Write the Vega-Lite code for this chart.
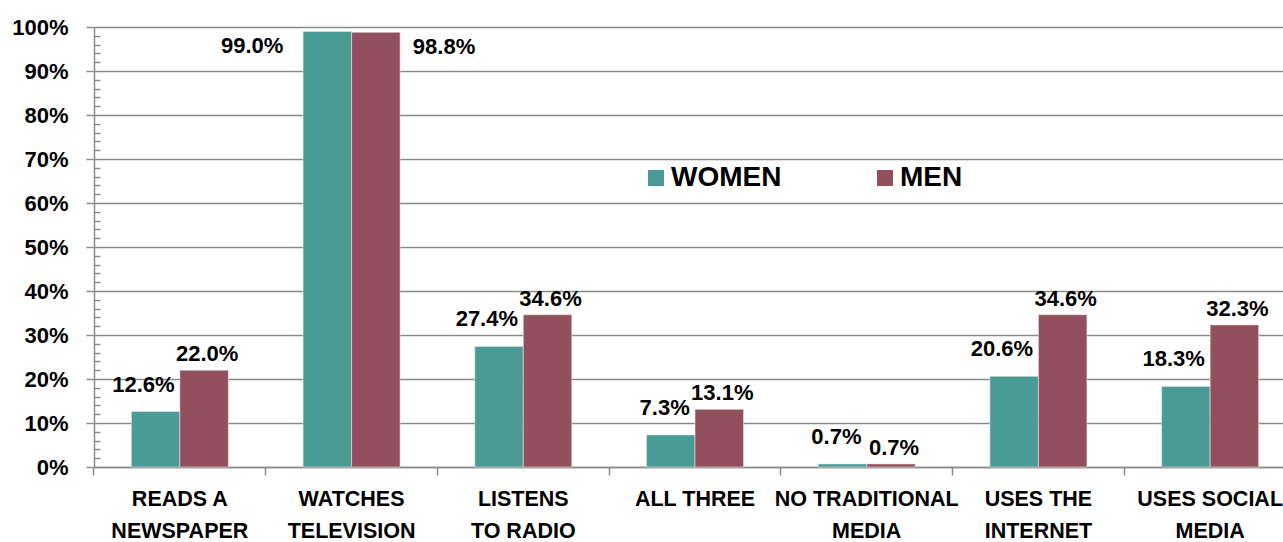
{
  "$schema": "https://vega.github.io/schema/vega-lite/v6.json",
  "width": 1189,
  "height": 440,
  "autosize": {"type": "none"},
  "padding": {"left": 94, "top": 27, "right": 0, "bottom": 75},
  "background": "white",
  "config": {
    "font": "Liberation Sans",
    "view": {"stroke": null},
    "text": {"font": "Liberation Sans", "fontWeight": "bold", "fontSize": 22, "color": "#000000"}
  },
  "data": {
    "values": [
      {"category": "READS A NEWSPAPER", "gender": "WOMEN", "value": 0.126},
      {"category": "READS A NEWSPAPER", "gender": "MEN", "value": 0.22},
      {"category": "WATCHES TELEVISION", "gender": "WOMEN", "value": 0.99},
      {"category": "WATCHES TELEVISION", "gender": "MEN", "value": 0.988},
      {"category": "LISTENS TO RADIO", "gender": "WOMEN", "value": 0.274},
      {"category": "LISTENS TO RADIO", "gender": "MEN", "value": 0.346},
      {"category": "ALL THREE", "gender": "WOMEN", "value": 0.073},
      {"category": "ALL THREE", "gender": "MEN", "value": 0.131},
      {"category": "NO TRADITIONAL MEDIA", "gender": "WOMEN", "value": 0.007},
      {"category": "NO TRADITIONAL MEDIA", "gender": "MEN", "value": 0.007},
      {"category": "USES THE INTERNET", "gender": "WOMEN", "value": 0.206},
      {"category": "USES THE INTERNET", "gender": "MEN", "value": 0.346},
      {"category": "USES SOCIAL MEDIA", "gender": "WOMEN", "value": 0.183},
      {"category": "USES SOCIAL MEDIA", "gender": "MEN", "value": 0.323}
    ]
  },
  "encoding": {
    "x": {
      "field": "category",
      "type": "nominal",
      "sort": null,
      "scale": {"range": [0, 1202], "paddingInner": 0.435, "paddingOuter": 0.2175},
      "axis": {
        "title": null,
        "domainColor": "#8c8c8c",
        "domainWidth": 1.5,
        "tickColor": "#8c8c8c",
        "tickWidth": 1.5,
        "tickSize": 8,
        "bandPosition": -0.385,
        "labelAngle": 0,
        "labelFont": "Liberation Sans",
        "labelFontSize": 21.5,
        "labelFontWeight": "bold",
        "labelColor": "#000000",
        "labelLineHeight": 32,
        "labelPadding": 13,
        "labelOverlap": false,
        "labelBound": false,
        "labelFlush": false,
        "labelLimit": 0,
        "labelExpr": "datum.value == 'READS A NEWSPAPER' ? ['READS A', 'NEWSPAPER'] : datum.value == 'WATCHES TELEVISION' ? ['WATCHES', 'TELEVISION'] : datum.value == 'LISTENS TO RADIO' ? ['LISTENS', 'TO RADIO'] : datum.value == 'NO TRADITIONAL MEDIA' ? ['NO TRADITIONAL', 'MEDIA'] : datum.value == 'USES THE INTERNET' ? ['USES THE', 'INTERNET'] : datum.value == 'USES SOCIAL MEDIA' ? ['USES SOCIAL', 'MEDIA'] : datum.value"
      }
    },
    "xOffset": {"field": "gender", "type": "nominal", "scale": {"domain": ["WOMEN", "MEN"]}},
    "y": {"field": "value", "type": "quantitative", "scale": {"domain": [0, 1], "nice": false}}
  },
  "resolve": {"axis": {"y": "independent"}},
  "layer": [
    {
      "mark": {"type": "bar", "stroke": "#e6e6e6", "strokeWidth": 0.6},
      "encoding": {
        "y": {
          "field": "value",
          "type": "quantitative",
          "axis": {
            "title": null,
            "orient": "left",
            "values": [0, 0.1, 0.2, 0.3, 0.4, 0.5, 0.6, 0.7, 0.8, 0.9, 1.0],
            "format": ".0%",
            "grid": true,
            "gridColor": "#8c8c8c",
            "gridWidth": 1.5,
            "domainColor": "#8c8c8c",
            "domainWidth": 1.5,
            "tickColor": "#8c8c8c",
            "tickWidth": 1.5,
            "tickSize": 8,
            "labelPadding": 18,
            "labelFont": "Liberation Sans",
            "labelFontSize": 22,
            "labelFontWeight": "bold",
            "labelColor": "#000000",
            "labelFlush": false,
            "labelOverlap": false
          }
        },
        "color": {
          "field": "gender",
          "type": "nominal",
          "scale": {"domain": ["WOMEN", "MEN"], "range": ["#4a9b95", "#92505e"]},
          "legend": {
            "title": null,
            "orient": "none",
            "legendX": 548,
            "legendY": 137,
            "direction": "horizontal",
            "padding": 0,
            "symbolType": "square",
            "symbolSize": 256,
            "symbolStrokeWidth": 0,
            "labelFont": "Liberation Sans",
            "labelFontSize": 28,
            "labelFontWeight": "bold",
            "labelColor": "#000000",
            "labelOffset": 1,
            "labelLimit": 0,
            "columnPadding": 89
          }
        }
      }
    },
    {
      "transform": [{"filter": "datum.gender == 'WOMEN' && datum.category != 'WATCHES TELEVISION'"}],
      "mark": {"type": "text", "align": "right", "baseline": "middle", "dx": 19, "dy": -27},
      "encoding": {
        "text": {"field": "value", "type": "quantitative", "format": ".1%"},
        "y": {
          "field": "value",
          "type": "quantitative",
          "axis": {
            "title": null,
            "orient": "left",
            "values": [0.02, 0.04, 0.06, 0.08, 0.12, 0.14, 0.16, 0.18, 0.22, 0.24, 0.26, 0.28, 0.32, 0.34, 0.36, 0.38, 0.42, 0.44, 0.46, 0.48, 0.52, 0.54, 0.56, 0.58, 0.62, 0.64, 0.66, 0.68, 0.72, 0.74, 0.76, 0.78, 0.82, 0.84, 0.86, 0.88, 0.92, 0.94, 0.96, 0.98],
            "labels": false,
            "grid": false,
            "domain": false,
            "ticks": true,
            "tickSize": -6,
            "tickColor": "#8c8c8c",
            "tickWidth": 1.5
          }
        }
      }
    },
    {
      "transform": [{"filter": "datum.gender == 'MEN' && datum.category != 'WATCHES TELEVISION'"}],
      "mark": {"type": "text", "align": "center", "baseline": "middle", "dx": 3, "dy": -16},
      "encoding": {
        "text": {"field": "value", "type": "quantitative", "format": ".1%"},
        "y": {"field": "value", "type": "quantitative", "axis": null}
      }
    },
    {
      "transform": [{"filter": "datum.gender == 'WOMEN' && datum.category == 'WATCHES TELEVISION'"}],
      "mark": {"type": "text", "align": "right", "baseline": "middle", "dx": -44, "dy": 15},
      "encoding": {
        "text": {"field": "value", "type": "quantitative", "format": ".1%"},
        "y": {"field": "value", "type": "quantitative", "axis": null}
      }
    },
    {
      "transform": [{"filter": "datum.gender == 'MEN' && datum.category == 'WATCHES TELEVISION'"}],
      "mark": {"type": "text", "align": "left", "baseline": "middle", "dx": 37, "dy": 15},
      "encoding": {
        "text": {"field": "value", "type": "quantitative", "format": ".1%"},
        "y": {"field": "value", "type": "quantitative", "axis": null}
      }
    }
  ]
}
